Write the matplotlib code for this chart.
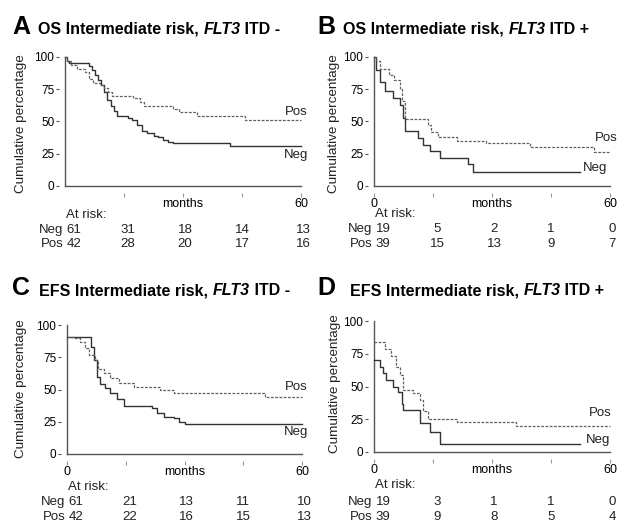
import matplotlib
matplotlib.use('Agg')
import matplotlib.pyplot as plt

plt.rcParams.update({'font.family': 'Liberation Sans',
                     'font.size': 9.5,
                     'text.color': '#222222'})

risk_cols = [2.3, 16, 30.5, 45, 60.5]

# A - OS, FLT3 ITD -
a_neg_t = [0, 0.5, 1, 6, 6.8, 7.6, 8.4, 9.2, 10, 10.8, 11.6, 12.4, 13.2, 16, 17, 18.2, 19.5, 20.8, 22.5, 23.7, 25, 26.3, 27.5, 42, 60]
a_neg_s = [100, 97, 95, 93, 90, 86, 82, 78, 73, 67, 62, 58, 54, 53, 51, 47, 43, 41, 39, 38, 36, 34, 33, 31, 31]
a_pos_t = [0, 0.5, 1.5, 3, 5, 6, 7, 9, 10, 11, 12, 17.4, 19, 20, 27.5, 29, 33.5, 45.8, 60]
a_pos_s = [100, 97, 94, 91, 88, 83, 80, 78, 76, 73, 70, 68, 65, 62, 60, 57, 54, 51, 51]
a_risk_neg = [61, 31, 18, 14, 13]
a_risk_pos = [42, 28, 20, 17, 16]

# B - OS, FLT3 ITD +
b_neg_t = [0, 0.5, 1.5, 2.7, 4.8, 6.7, 7.3, 8, 11.2, 12.4, 14.2, 16.7, 24, 25.2, 52.4]
b_neg_s = [100, 90, 81, 74, 68, 63, 53, 43, 37, 32, 27, 22, 17, 11, 11]
b_pos_t = [0, 0.5, 1.5, 3.8, 5, 6.5, 7.2, 8, 13.3, 13.8, 14.6, 16.3, 21, 28.6, 39.6, 56, 60]
b_pos_s = [100, 97, 91, 86, 82, 75, 66, 52, 52, 47, 42, 38, 35, 33, 30, 26, 26]
b_risk_neg = [19, 5, 2, 1, 0]
b_risk_pos = [39, 15, 13, 9, 7]

# C - EFS, FLT3 ITD -
c_neg_t = [0, 5.1, 6, 6.8, 7.7, 8.5, 9.8, 11, 12.8, 14.5, 21.7, 23, 24.7, 27.2, 28.5, 30.2, 60]
c_neg_s = [91, 91, 83, 73, 60, 54, 51, 47, 43, 37, 36, 32, 29, 28, 25, 23, 23]
c_pos_t = [0, 2.1, 3.4, 4.7, 5.5, 7.2, 8, 9.4, 11, 13.2, 17, 23.8, 27.2, 50.6, 60]
c_pos_s = [91, 90, 87, 82, 77, 73, 66, 63, 59, 55, 52, 50, 47, 44, 44]
c_risk_neg = [61, 21, 13, 11, 10]
c_risk_pos = [42, 22, 16, 15, 13]

# D - EFS, FLT3 ITD +
d_neg_t = [0, 1.4, 2.3, 3.1, 4.8, 6.1, 7, 7.4, 11.6, 14.2, 16.7, 52.4]
d_neg_s = [70, 65, 60, 55, 50, 46, 37, 32, 22, 15, 6, 6]
d_pos_t = [0, 2.7, 4.4, 5.7, 6.5, 7.4, 9.9, 11.6, 12.5, 13.8, 21, 36.2, 60]
d_pos_s = [84, 79, 73, 65, 59, 47, 45, 40, 31, 25.5, 23, 20, 20]
d_risk_neg = [19, 3, 1, 1, 0]
d_risk_pos = [39, 9, 8, 5, 4]

W, H = 626, 523
fig = plt.figure(figsize=(W / 100, H / 100), dpi=100)

panels = [
    dict(letter='A', title=['OS Intermediate risk, ', 'FLT3', ' ITD -'],
         box=(65, 186, 301, 57), letter_xy=(12, 34), title_x=38, ylab=(21, 124),
         neg=(a_neg_t, a_neg_s), pos=(a_pos_t, a_pos_s), rneg=a_risk_neg, rpos=a_risk_pos,
         zero=False, risk_y=(-0.222, -0.341, -0.45),
         pos_lab=(61.8, 57), neg_lab=(61.8, 24)),
    dict(letter='B', title=['OS Intermediate risk, ', 'FLT3', ' ITD +'],
         box=(374, 186, 610, 57), letter_xy=(317, 34), title_x=343, ylab=(334, 124),
         neg=(b_neg_t, b_neg_s), pos=(b_pos_t, b_pos_s), rneg=b_risk_neg, rpos=b_risk_pos,
         zero=True, risk_y=(-0.215, -0.333, -0.45),
         pos_lab=(62, 37), neg_lab=(59.3, 14)),
    dict(letter='C', title=['EFS Intermediate risk, ', 'FLT3', ' ITD -'],
         box=(67, 454, 302, 325), letter_xy=(12, 295), title_x=39, ylab=(21, 389),
         neg=(c_neg_t, c_neg_s), pos=(c_pos_t, c_pos_s), rneg=c_risk_neg, rpos=c_risk_pos,
         zero=True, risk_y=(-0.256, -0.37, -0.49),
         pos_lab=(61.5, 52), neg_lab=(61.5, 17)),
    dict(letter='D', title=['EFS Intermediate risk, ', 'FLT3', ' ITD +'],
         box=(374, 452, 610, 321), letter_xy=(317, 295), title_x=350, ylab=(335, 384),
         neg=(d_neg_t, d_neg_s), pos=(d_pos_t, d_pos_s), rneg=d_risk_neg, rpos=d_risk_pos,
         zero=True, risk_y=(-0.252, -0.38, -0.5),
         pos_lab=(60.3, 30), neg_lab=(60.0, 9)),
]

for p in panels:
    x0, y0, x1, y1 = p['box']
    ax = fig.add_axes([x0 / W, 1 - y0 / H, (x1 - x0) / W, (y0 - y1) / H])
    ax.set_xlim(0, 60)
    ax.set_ylim(0, 100)
    for s in ['top', 'right', 'left', 'bottom']:
        ax.spines[s].set_visible(False)
    ax.spines['left'].set_position(('outward', 4))
    ax.spines['bottom'].set_position(('outward', 5))
    ax.axvline(0, color='#555555', lw=1.0, clip_on=False)
    ax.axhline(0, color='#555555', lw=1.0, clip_on=False)

    ax.step(p['neg'][0], p['neg'][1], where='post', color='#333333', lw=1.0, clip_on=False)
    ax.step(p['pos'][0], p['pos'][1], where='post', color='#606060', lw=0.9,
            dashes=(2.2, 1.2), clip_on=False)

    ax.set_yticks([0, 25, 50, 75, 100])
    ax.tick_params(axis='y', length=2.5, width=0.8, color='#555555', pad=1.2, labelsize=8.5)
    if p['zero']:
        ax.set_xticks([0, 15, 30, 45, 60])
        ax.set_xticklabels(['0', '', 'months', '', '60'])
    else:
        ax.set_xticks([15, 30, 45, 60])
        ax.set_xticklabels(['', 'months', '', '60'])
    ax.tick_params(axis='x', length=3, width=0.8, color='#999999', pad=0.8, labelsize=9)

    ax.text(p['pos_lab'][0], p['pos_lab'][1], 'Pos', ha='right', va='center', fontsize=9.5)
    ax.text(p['neg_lab'][0], p['neg_lab'][1], 'Neg', ha='right', va='center', fontsize=9.5)

    tr = ax.get_xaxis_transform()
    ry = p['risk_y']
    ax.text(0.3, ry[0], 'At risk:', transform=tr, ha='left', va='center', fontsize=9.5)
    ax.text(-0.4, ry[1], 'Neg', transform=tr, ha='right', va='center', fontsize=9.5)
    ax.text(-0.4, ry[2], 'Pos', transform=tr, ha='right', va='center', fontsize=9.5)
    for c, vn, vp in zip(risk_cols, p['rneg'], p['rpos']):
        ax.text(c, ry[1], str(vn), transform=tr, ha='center', va='center', fontsize=9.5)
        ax.text(c, ry[2], str(vp), transform=tr, ha='center', va='center', fontsize=9.5)

    fig.text(p['ylab'][0] / W, 1 - p['ylab'][1] / H, 'Cumulative percentage',
             rotation=90, ha='center', va='center', fontsize=9.7)

    lx, ly = p['letter_xy']
    fig.text(lx / W, 1 - ly / H, p['letter'], fontsize=18, fontweight='bold',
             ha='left', va='baseline', color='black')
    prev = fig.text(p['title_x'] / W, 1 - ly / H, p['title'][0], fontsize=11.5,
                    fontweight='bold', ha='left', va='baseline', color='black')
    for i, piece in enumerate(p['title'][1:]):
        style = 'italic' if i == 0 else 'normal'
        prev = ax.annotate(piece, xy=(1, 0), xycoords=prev, ha='left', va='bottom',
                           fontsize=11.5, fontweight='bold', fontstyle=style,
                           color='black', annotation_clip=False)

fig.savefig('out.png', dpi=100)
